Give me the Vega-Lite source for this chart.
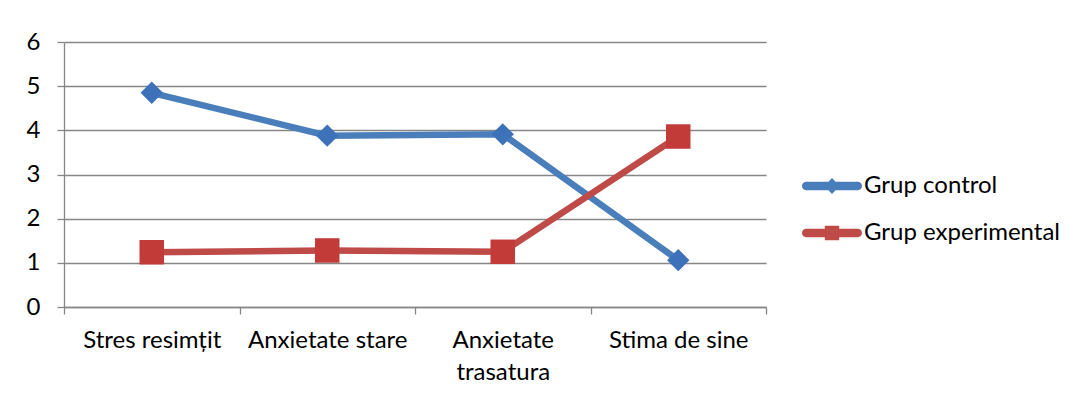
{
  "$schema": "https://vega.github.io/schema/vega-lite/v6.json",
  "width": 702,
  "height": 265,
  "autosize": {"type": "none"},
  "padding": {"left": 64, "top": 42, "right": 316, "bottom": 93},
  "background": "white",
  "config": {
    "view": {"stroke": null},
    "font": "Lato",
    "axis": {"labelFont": "Lato", "labelFontSize": 24, "labelColor": "#000000"},
    "legend": {"labelFont": "Lato", "labelFontSize": 24, "labelColor": "#000000", "labelLimit": 400}
  },
  "data": {
    "values": [
      {"categorie": "Stres resimțit", "grup": "Grup control", "valoare": 4.85},
      {"categorie": "Anxietate stare", "grup": "Grup control", "valoare": 3.88},
      {"categorie": "Anxietate trasatura", "grup": "Grup control", "valoare": 3.91},
      {"categorie": "Stima de sine", "grup": "Grup control", "valoare": 1.06},
      {"categorie": "Stres resimțit", "grup": "Grup experimental", "valoare": 1.24},
      {"categorie": "Anxietate stare", "grup": "Grup experimental", "valoare": 1.28},
      {"categorie": "Anxietate trasatura", "grup": "Grup experimental", "valoare": 1.25},
      {"categorie": "Stima de sine", "grup": "Grup experimental", "valoare": 3.86}
    ]
  },
  "encoding": {
    "x": {
      "field": "categorie", "type": "nominal", "sort": null,
      "scale": {"type": "band", "paddingInner": 0, "paddingOuter": 0},
      "axis": {
        "title": null, "labelAngle": 0, "grid": false,
        "domainColor": "#868686", "domainWidth": 1.3,
        "tickColor": "#868686", "tickWidth": 1.3, "tickSize": 7, "tickBand": "extent",
        "labelPadding": 14, "labelLineHeight": 32, "labelBaseline": "top",
        "labelExpr": "datum.label == 'Anxietate trasatura' ? ['Anxietate', 'trasatura'] : datum.label"
      }
    },
    "y": {
      "field": "valoare", "type": "quantitative",
      "scale": {"domain": [0, 6], "nice": false, "zero": true},
      "axis": {
        "title": null, "values": [0, 1, 2, 3, 4, 5, 6],
        "grid": true, "gridColor": "#868686", "gridWidth": 1.3,
        "domainColor": "#868686", "domainWidth": 1.3,
        "tickColor": "#868686", "tickWidth": 1.3, "tickSize": 7,
        "labelPadding": 17
      }
    }
  },
  "layer": [
    {
      "mark": {"type": "line", "strokeWidth": 6.5, "strokeCap": "butt"},
      "encoding": {
        "color": {
          "field": "grup", "type": "nominal",
          "scale": {"domain": ["Grup control", "Grup experimental"], "range": ["#4A7EBB", "#BE4B48"]},
          "legend": {
            "orient": "none", "legendX": 738, "legendY": 114,
            "title": null, "symbolSize": 3600, "symbolStrokeWidth": 0,
            "rowPadding": 5, "labelOffset": 2,
            "encode": {
              "symbols": {
                "update": {
                  "shape": {"signal": "datum.value === 'Grup control' ? 'M-0.86,-0.14H0.86A0.14,0.14,0,0,1,0.86,0.14H-0.86A0.14,0.14,0,0,1,-0.86,-0.14Z M0,-0.27L0.25,0L0,0.27L-0.25,0Z' : 'M-0.86,-0.14H0.86A0.14,0.14,0,0,1,0.86,0.14H-0.86A0.14,0.14,0,0,1,-0.86,-0.14Z M-0.24,-0.24H0.24V0.24H-0.24Z'"},
                  "fill": {"signal": "datum.value === 'Grup control' ? '#4A7EBB' : '#BE4B48'"},
                  "fillOpacity": {"value": 1},
                  "strokeWidth": {"value": 0}
                }
              }
            }
          }
        }
      }
    },
    {
      "transform": [{"filter": "datum.grup === 'Grup control'"}],
      "mark": {"type": "point", "shape": "diamond", "size": 500, "filled": true, "opacity": 1, "fill": "#3D72BB", "stroke": "#4A7EBB", "strokeWidth": 0}
    },
    {
      "transform": [{"filter": "datum.grup === 'Grup experimental'"}],
      "mark": {"type": "point", "shape": "square", "size": 600, "filled": true, "opacity": 1, "fill": "#C23B38", "stroke": "#BE4B48", "strokeWidth": 0}
    }
  ]
}
